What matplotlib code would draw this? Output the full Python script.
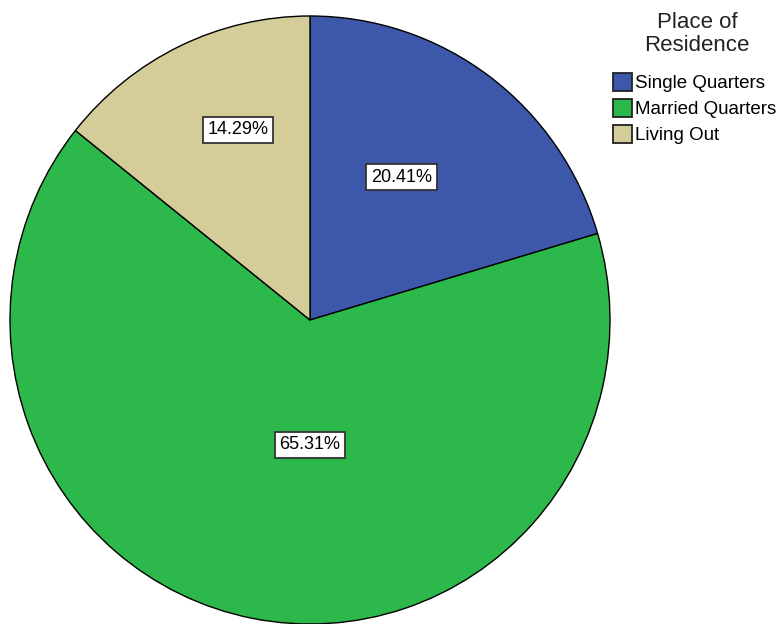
import numpy as np
import matplotlib.pyplot as plt
from matplotlib.patches import Patch

plt.rcParams['font.family'] = ['Liberation Sans', 'DejaVu Sans']

labels = ['Single Quarters', 'Married Quarters', 'Living Out']
values = [20.41, 65.31, 14.29]
colors = ['#3d58ab', '#2db84b', '#d4cc99']
# label placement: angle (deg) and radial fraction
label_angle = [57, -90, 111]
label_frac = [0.56, 0.41, 0.67]

fig = plt.figure(figsize=(7.82, 6.24), dpi=100)
# pie spans x 10..610, y 16..624 px
ax = fig.add_axes([10 / 782, 0 / 624, 600 / 782, 608 / 624])
wedges, _ = ax.pie(values, colors=colors, startangle=90, counterclock=False,
                   radius=1.0, center=(0, 0),
                   wedgeprops=dict(edgecolor='black', linewidth=1.0))
ax.set_xlim(-1.0, 1.0)
ax.set_ylim(-1.0, 1.0)
ax.set_aspect('auto')
ax.axis('off')

for v, a, f in zip(values, label_angle, label_frac):
    t = np.deg2rad(a)
    ax.text(f * np.cos(t), f * np.sin(t), '%.2f%%' % v,
            ha='center', va='center', fontsize=13,
            bbox=dict(facecolor='white', edgecolor='#333333', linewidth=1.3,
                      boxstyle='square,pad=0.25'))

fig.text(697 / 782, 1 - 12 / 624, 'Place of\nResidence', ha='center', va='top',
         fontsize=16, linespacing=1.12, color='#222222')

handles = [Patch(facecolor=c, edgecolor='#222222', linewidth=1.3) for c in colors]
leg = fig.legend(handles, labels, loc='upper left',
                 bbox_to_anchor=(613 / 782, 1 - 73 / 624),
                 frameon=False, fontsize=13.5, borderaxespad=0, borderpad=0,
                 handlelength=1.0, handleheight=1.1, handletextpad=0.15,
                 labelspacing=0.35)

fig.savefig('out.png', dpi=100)
